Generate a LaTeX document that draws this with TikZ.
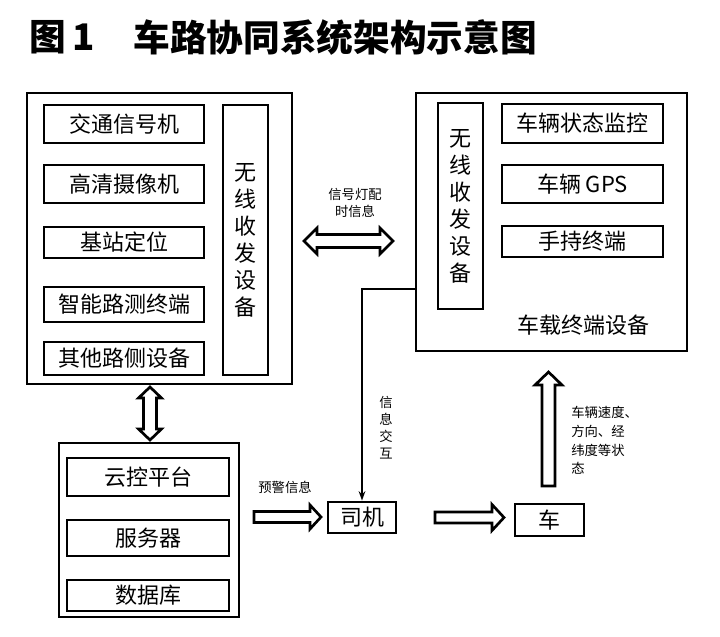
\documentclass[tikz,border=0pt]{standalone}
\usepackage{fontspec}
\setmainfont{Noto Sans CJK SC}
\usetikzlibrary{arrows.meta,calc}
\tikzset{
  outerbox/.style={draw, line width=2.2pt, inner sep=0pt},
  innerbox/.style={draw, line width=2pt, inner sep=0pt, font=\fontsize{16.5pt}{20pt}\selectfont},
  vtext/.style={align=center, font=\fontsize{16.5pt}{20.25pt}\selectfont, inner sep=0pt},
  boxtext/.style={inner sep=0pt, font=\fontsize{16.5pt}{20pt}\selectfont},
  lbl/.style={inner sep=0pt, font=\fontsize{10pt}{12.75pt}\selectfont},
  titlestyle/.style={inner sep=0pt, font=\bfseries\fontsize{27.5pt}{30pt}\selectfont},
  blk/.style={draw, line width=2pt, fill=white, line join=miter},
  thinln/.style={draw, line width=1.1pt},
  sz/.style 2 args={minimum width=#1*0.75pt, minimum height=#2*0.75pt},
}
% right block arrow: x1 x2 y shafthalf headhalf headlen
\newcommand\blkRight[6]{\draw[blk] (#1,#3-#4) -- (#2-#6,#3-#4) -- (#2-#6,#3-#5) -- (#2,#3) -- (#2-#6,#3+#5) -- (#2-#6,#3+#4) -- (#1,#3+#4) -- cycle;}
\newcommand\blkLeftRight[6]{\draw[blk] (#1,#3) -- (#1+#6,#3-#5) -- (#1+#6,#3-#4) -- (#2-#6,#3-#4) -- (#2-#6,#3-#5) -- (#2,#3) -- (#2-#6,#3+#5) -- (#2-#6,#3+#4) -- (#1+#6,#3+#4) -- (#1+#6,#3+#5) -- cycle;}
% up arrow: x ytop ybot shafthalf headhalf headlen
\newcommand\blkUp[6]{\draw[blk] (#1-#4,#3) -- (#1-#4,#2+#6) -- (#1-#5,#2+#6) -- (#1,#2) -- (#1+#5,#2+#6) -- (#1+#4,#2+#6) -- (#1+#4,#3) -- cycle;}
\newcommand\blkUpDown[6]{\draw[blk] (#1,#2) -- (#1+#5,#2+#6) -- (#1+#4,#2+#6) -- (#1+#4,#3-#6) -- (#1+#5,#3-#6) -- (#1,#3) -- (#1-#5,#3-#6) -- (#1-#4,#3-#6) -- (#1-#4,#2+#6) -- (#1-#5,#2+#6) -- cycle;}
\begin{document}
\begin{tikzpicture}[x=0.75pt,y=-0.75pt]
\fill[white] (0,0) rectangle (720,636);
\useasboundingbox (0,0) rectangle (720,636);

% title
\node[titlestyle] (t1) at (47.5,37.5) {图};
\node[titlestyle] (t2) at (83.5,37.5) {1};
\node[titlestyle] (t3) at (335,37.5) {车路协同系统架构示意图};

% left roadside box
\node[outerbox, sz={265}{291}] (L) at (159.5,238.5) {};
\node[innerbox, sz={160}{38}] (a1) at (124,124) {交通信号机};
\node[innerbox, sz={160}{38}] (a2) at (124,184) {高清摄像机};
\node[innerbox, sz={160}{31}] (a3) at (124,242.5) {基站定位};
\node[innerbox, sz={160}{35}] (a4) at (124,304.5) {智能路测终端};
\node[innerbox, sz={160}{33}] (a5) at (124,358.5) {其他路侧设备};
\node[outerbox, line width=2pt, sz={45}{270}] (lw) at (245.5,240) {};
\node[vtext] (lwt) at (lw.center) {无\\线\\收\\发\\设\\备};

% right vehicle box
\node[outerbox, sz={271}{258}] (R) at (551.5,222) {};
\node[outerbox, line width=2pt, sz={45}{206}] (rw) at (460.5,206) {};
\node[vtext] (rwt) at (rw.center) {无\\线\\收\\发\\设\\备};
\node[innerbox, sz={161}{39}] (b1) at (582.5,123.5) {车辆状态监控};
\node[innerbox, sz={161}{38}] (b2) at (582.5,184) {车辆 GPS};
\node[innerbox, sz={161}{31}] (b3) at (582.5,241.5) {手持终端};
\node[boxtext] (rlab) at (583,325) {车载终端设备};

% cloud box
\node[outerbox, sz={180}{174}] (C) at (149,530) {};
\node[innerbox, sz={162}{38}] (c1) at (148,477) {云控平台};
\node[innerbox, sz={162}{36}] (c2) at (148,538) {服务器};
\node[innerbox, sz={162}{31}] (c3) at (148,595.5) {数据库};

% driver and car
\node[innerbox, line width=2.2pt, sz={68}{31}] (D) at (362,517.5) {司机};
\node[innerbox, line width=2.2pt, sz={69}{32}] (V) at (549.5,520) {车};

% block arrows
\blkLeftRight{304}{393}{241}{6.5}{13}{13}
\blkUpDown{150}{387}{440}{6.5}{11.5}{11}
\blkRight{254}{321}{517}{5.5}{12}{11}
\blkRight{435}{504}{517.5}{5.5}{13}{12}
\blkUp{548.5}{372}{486}{6.5}{13.5}{13}

% thin connector
\coordinate (jy) at (0,289);
\coordinate (j) at (D.north |- jy);
\draw[thinln, -{Stealth[length=7pt, width=5pt]}] (R.west |- jy) -- (j) -- (D.north);

% labels
\node[lbl, align=center] (l1) at (355,203) {信号灯配\\时信息};
\node[lbl, align=center] (l2) at (386,428) {信\\息\\交\\互};
\node[lbl] (l3) at (285,487) {预警信息};
\node[lbl, align=left, anchor=west, font=\fontsize{10pt}{13.9pt}\selectfont] (l4) at (571,440.5) {车辆速度、\\方向、经\\纬度等状\\态};
\end{tikzpicture}
\end{document}
